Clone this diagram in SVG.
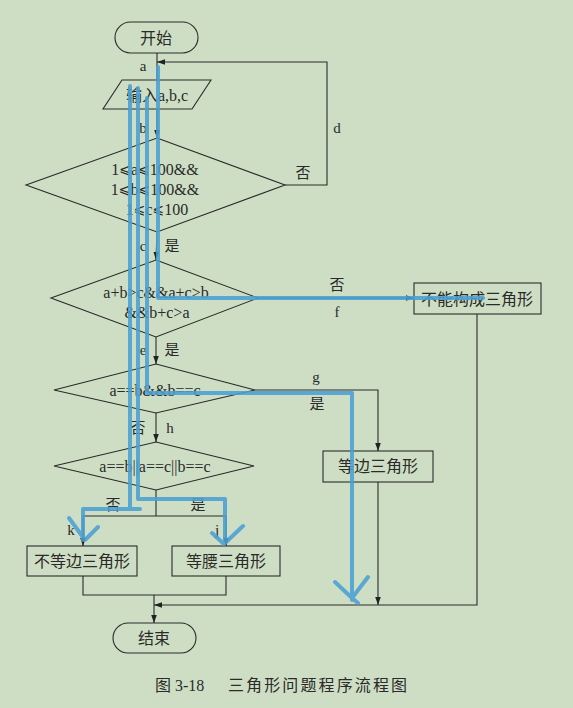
<svg xmlns="http://www.w3.org/2000/svg" width="573" height="708" viewBox="0 0 573 708">
<defs>
<marker id="arr" viewBox="0 0 10 10" refX="10" refY="5" markerWidth="8" markerHeight="8" markerUnits="userSpaceOnUse" orient="auto">
<path d="M0,1.5 L10,5 L0,8.5 Z" fill="#222"/>
</marker>
<style>
.shape{fill:none;stroke:#2a2a2a;stroke-width:1.1}
.ln{fill:none;stroke:#2a2a2a;stroke-width:1.1}
.t{font-family:"Liberation Serif","Noto Sans CJK SC",serif;fill:#2a2a2a;text-anchor:middle;dominant-baseline:central}
.n{font-size:16px}
.lb{font-size:15px}
.le{font-family:"DejaVu Sans","Noto Sans CJK SC",sans-serif;font-size:14px}
.blue{fill:none;stroke:#4a9fd4;stroke-width:4;stroke-opacity:0.88;stroke-linejoin:round;stroke-linecap:round}
</style>
</defs>
<rect width="573" height="708" fill="#cedec4"/>

<g id="start"><rect class="shape" x="115" y="22" width="83" height="31" rx="15.5"/><text class="t n" x="156" y="38">开始</text></g>
<g id="input"><polygon class="shape" points="122,80 211,80 192,109 103,109"/><text class="t n" x="157" y="95">输入a,b,c</text></g>
<g id="d1"><polygon class="shape" points="157,138 285,185 157,232 26,185"/>
<text class="t n" x="155" y="169">1<tspan class="le">⩽</tspan>a<tspan class="le">⩽</tspan>100&amp;&amp;</text>
<text class="t n" x="155" y="189">1<tspan class="le">⩽</tspan>b<tspan class="le">⩽</tspan>100&amp;&amp;</text>
<text class="t n" x="157" y="209">1<tspan class="le">⩽</tspan>c<tspan class="le">⩽</tspan>100</text></g>
<g id="d2"><polygon class="shape" points="156,260 258,298 156,337 51,298"/>
<text class="t n" x="156" y="292">a+b&gt;c&amp;&amp;a+c&gt;b</text>
<text class="t n" x="157" y="312">&amp;&amp;b+c&gt;a</text></g>
<g id="notTri"><rect class="shape" x="414" y="283" width="127" height="31"/><text class="t n" x="477" y="299">不能构成三角形</text></g>
<g id="d3"><polygon class="shape" points="156,364 255,390 156,413 54,390"/><text class="t n" x="155" y="390">a==b&amp;&amp;b==c</text></g>
<g id="equi"><rect class="shape" x="323" y="451" width="110" height="31"/><text class="t n" x="378" y="466">等边三角形</text></g>
<g id="d4"><polygon class="shape" points="156,442 254,466 156,490 54,466"/><text class="t n" x="155" y="466">a==b||a==c||b==c</text></g>
<g id="scalene"><rect class="shape" x="27" y="546" width="110" height="30"/><text class="t n" x="82" y="561">不等边三角形</text></g>
<g id="iso"><rect class="shape" x="172" y="546" width="108" height="30"/><text class="t n" x="226" y="561">等腰三角形</text></g>
<g id="end"><rect class="shape" x="113" y="623" width="83" height="30" rx="15"/><text class="t n" x="154" y="638">结束</text></g>

<g id="connectors">
<line class="ln" x1="157" y1="53" x2="157" y2="80"/>
<line class="ln" x1="157" y1="109" x2="157" y2="138" marker-end="url(#arr)"/>
<polyline class="ln" points="285,185 327,185 327,62 157,62" marker-end="url(#arr)"/>
<line class="ln" x1="157" y1="232" x2="156" y2="260" marker-end="url(#arr)"/>
<line class="ln" x1="258" y1="298" x2="414" y2="298" marker-end="url(#arr)"/>
<line class="ln" x1="156" y1="337" x2="156" y2="364" marker-end="url(#arr)"/>
<polyline class="ln" points="255,390 378,390 378,451" marker-end="url(#arr)"/>
<line class="ln" x1="156" y1="413" x2="156" y2="442" marker-end="url(#arr)"/>
<line class="ln" x1="156" y1="490" x2="156" y2="516"/>
<line class="ln" x1="83" y1="516" x2="226" y2="516"/>
<line class="ln" x1="83" y1="516" x2="83" y2="546" marker-end="url(#arr)"/>
<line class="ln" x1="226" y1="516" x2="226" y2="546" marker-end="url(#arr)"/>
<polyline class="ln" points="83,576 83,595 226,595 226,576"/>
<line class="ln" x1="378" y1="482" x2="378" y2="605" marker-end="url(#arr)"/>
<polyline class="ln" points="477,314 477,605 154,605" marker-end="url(#arr)"/>
<line class="ln" x1="154" y1="595" x2="154" y2="623" marker-end="url(#arr)"/>
</g>

<g id="labels">
<text class="t lb" x="143" y="66">a</text>
<text class="t lb" x="143" y="128">b</text>
<text class="t lb" x="337" y="128">d</text>
<text class="t lb" x="303" y="173">否</text>
<text class="t lb" x="143" y="246">c</text>
<text class="t lb" x="172" y="246">是</text>
<text class="t lb" x="337" y="285">否</text>
<text class="t lb" x="337" y="312">f</text>
<text class="t lb" x="143" y="350">e</text>
<text class="t lb" x="172" y="350">是</text>
<text class="t lb" x="316" y="377">g</text>
<text class="t lb" x="317" y="404">是</text>
<text class="t lb" x="138" y="428">否</text>
<text class="t lb" x="170" y="428">h</text>
<text class="t lb" x="113" y="505">否</text>
<text class="t lb" x="198" y="505">是</text>
<text class="t lb" x="71" y="530">k</text>
<text class="t lb" x="217" y="530">j</text>
</g>

<g id="paths">
<path class="blue" d="M158,67 V298 H483"/>
<path class="blue" d="M147,98 V393 H352 V600 M335,582 L352,598 L368,577 M352,598 L358,603"/>
<path class="blue" d="M138,88 V499 H225 V543 M212,533 L224,544 L243,526"/>
<path class="blue" d="M130,86 V509 M140,509 H83 V540 M69,518 L85,540 L98,527"/>
</g>

<g id="caption">
<text class="t" x="155" y="685" style="font-size:16px;text-anchor:start">图 3-18</text>
<text class="t" x="228" y="685" style="font-size:16px;text-anchor:start" textLength="179" lengthAdjust="spacing">三角形问题程序流程图</text>
</g>
</svg>
